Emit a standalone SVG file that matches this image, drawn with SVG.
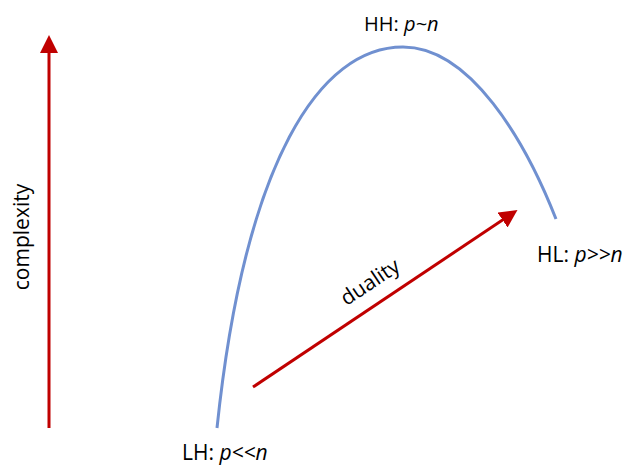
<svg xmlns="http://www.w3.org/2000/svg" width="627" height="465" viewBox="0 0 627 465">
<style>
text{font-family:"Open Sans","Liberation Sans",Arial,sans-serif;font-size:21px;fill:#000}
.i{font-style:italic}
.red{stroke:#c00000;stroke-width:3;fill:none}
.curve{stroke:#7090d0;stroke-width:3;fill:none}
</style>
<defs>
<marker id="ah" markerWidth="6" markerHeight="6" refX="3" refY="3" orient="auto" markerUnits="strokeWidth" viewBox="0 0 6 6">
<path d="M0,0 L6,3 L0,6 Z" fill="#c00000"/>
</marker>
</defs>
<g id="connectors">
<path id="curve" class="curve" d="M217,428 C245,160 320,47 403,47 C470,47 525,140 556,219"/>
<line id="complexity-arrow" class="red" x1="49" y1="428" x2="49" y2="44" marker-end="url(#ah)"/>
<line id="duality-arrow" class="red" x1="253" y1="387" x2="510" y2="215" marker-end="url(#ah)"/>
</g>
<g id="HH"><text x="364" y="31" style="font-size:20px">HH: <tspan class="i">p~n</tspan></text></g>
<g id="LH"><text x="182" y="460">LH: <tspan class="i">p&lt;&lt;n</tspan></text></g>
<g id="HL"><text x="537" y="262">HL: <tspan class="i">p&gt;&gt;n</tspan></text></g>
<g id="complexity"><text transform="translate(29,237) rotate(-90)" text-anchor="middle">complexity</text></g>
<g id="duality"><text transform="translate(374,288) rotate(-33.8)" text-anchor="middle">duality</text></g>
</svg>
